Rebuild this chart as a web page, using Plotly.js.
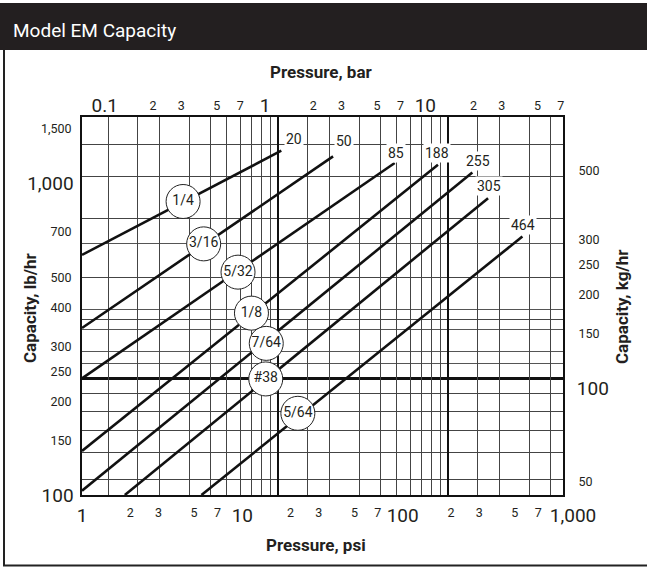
<!DOCTYPE html>
<html><head><meta charset="utf-8">
<script src="https://cdn.plot.ly/plotly-3.0.1.min.js"></script>
<style>html,body{margin:0;padding:0;background:#fff}#chart{width:647px;height:567px}</style>
</head><body><div id="chart"></div>
<script>
// ---- data ----
const orifices = ['1/4', '3/16', '5/32', '1/8', '7/64', '#38', '5/64'];
const maxPsiLabels = ['20', '50', '85', '188', '255', '305', '464'];
const psiStart = [1, 1, 1, 1, 1, 1.85, 5.56];
const psiEnd = [17.5, 36.8, 89.2, 166, 272, 341, 558];
const capStart = [591, 344, 237, 138.5, 103.2, 100, 100];
const capEnd = [1277, 1224, 1166, 1151, 1087, 899, 677];
const badgePsi = [4.27, 5.74, 9.40, 11.4, 14.1, 14.0, 22.2];
const badgeCap = [877, 641, 520, 384, 307, 236, 183];
const endLabelPsi = [20.9, 42.9, 91.4, 163, 295, 346, 563];
const endLabelCap = [1395, 1368, 1260, 1260, 1180, 980, 738];

// tick labels
const psiMajor = [1, 10, 100];
const psiMajorText = ['1', '10', '100'];
const psiEndTick = [1000];
const psiEndText = ['1,000'];
const psiMinor = [2, 3, 5, 7, 20, 30, 50, 70, 200, 300, 500, 700];
const psiMinorText = ['2', '3', '5', '7', '2', '3', '5', '7', '2', '3', '5', '7'];
const barMajor = [0.1, 1, 10];
const barMajorText = ['0.1', '1', '10'];
const barMinor = [0.2, 0.3, 0.5, 0.7, 2, 3, 5, 7, 20, 30, 50, 70];
const barMinorText = ['2', '3', '5', '7', '2', '3', '5', '7', '2', '3', '5', '7'];
const lbMajor = [100, 1000];
const lbMajorText = ['100', '1,000'];
const lbMinor = [150, 200, 250, 300, 400, 500, 700, 1500];
const lbMinorText = ['150', '200', '250', '300', '400', '500', '700', '1,500'];
const kgMajor = [100];
const kgMajorText = ['100'];
const kgMinor = [50, 150, 200, 250, 300, 500];
const kgMinorText = ['50', '150', '200', '250', '300', '500'];

// printed grid of the chart (its own log paper)
const gridXLines = [1, 1.5, 2, 3, 4, 5, 6, 7, 8, 9, 15, 20, 30, 40, 50, 60, 70, 80, 90, 150, 200, 300, 400];
const gridXHeavy = [10, 100];
const gridYLines = [50, 60, 70, 80, 90, 150, 200, 300, 400, 500];
const gridYExtra = [110.6, 120.4, 140.4, 161.1, 252.4];
const gridYHeavy = [100];

// ---- layout geometry ----
const W = 647, H = 567, ML = 82, MR = 84, MT = 117, MB = 72;
const PW = W - ML - MR, PH = H - MT - MB;
const px = v => (v - ML) / PW;
const py = v => (H - MB - v) / PH;
const FONT = 'Roboto, "Liberation Sans", Arial, sans-serif';
const L = Math.log10;
const KG = 2.20462, BAR = 14.5038;
const psiRange = [0, 3];
const barShift = 0.02; // printed bar labels sit slightly left of the exact conversion
const barRange = [psiRange[0] - L(BAR) + barShift, psiRange[1] - L(BAR) + barShift];
const lbRange = [2, 3.2145];
const kgRange = [lbRange[0] - L(KG), lbRange[1] - L(KG)];
const gridXRange = [-0.153, 2.677];
const gridYRange = [1.6528, 2.7803];

const traces = [];
for (let i = 0; i < orifices.length; i++) {
  traces.push({
    x: [psiStart[i], psiEnd[i]], y: [capStart[i], capEnd[i]],
    mode: 'lines', line: {color: '#111', width: 2.6},
    hoverinfo: 'skip', showlegend: false
  });
}
traces.push({
  x: badgePsi, y: badgeCap, mode: 'markers+text', text: orifices,
  textposition: 'middle center',
  marker: {size: 34, color: '#fff', line: {color: '#222', width: 1}},
  textfont: {family: FONT, size: 14, color: '#231f20'},
  hoverinfo: 'skip', showlegend: false
});
// empty traces to tie the overlay axes to the plot
[['x2', 'y'], ['x3', 'y'], ['x4', 'y'], ['x5', 'y'], ['x6', 'y'], ['x7', 'y'],
 ['x', 'y2'], ['x', 'y3'], ['x', 'y4'], ['x', 'y5'], ['x', 'y6'], ['x', 'y7']].forEach(p => {
  traces.push({x: [], y: [], xaxis: p[0], yaxis: p[1], mode: 'markers', hoverinfo: 'skip', showlegend: false});
});

const base = {type: 'log', showgrid: false, zeroline: false, fixedrange: true,
  ticks: 'outside', tickcolor: 'rgba(0,0,0,0)', color: '#231f20'};
const gridAx = (range, vals, width, color) => Object.assign({}, base, {
  range: range, tickvals: vals, showticklabels: false, ticks: '',
  showgrid: true, gridcolor: color, gridwidth: width});

const layout = {
  width: W, height: H,
  margin: {l: ML, r: MR, t: MT, b: MB, pad: 0},
  paper_bgcolor: '#fff', plot_bgcolor: '#fff',
  font: {family: FONT, color: '#231f20'},
  showlegend: false,
  title: {text: 'Model EM Capacity', x: 13 / W, xanchor: 'left', xref: 'container',
    y: 1 - 30 / H, yanchor: 'middle', yref: 'container',
    font: {family: FONT, size: 19, color: '#fff'}},
  xaxis: Object.assign({}, base, {range: psiRange, tickvals: psiMajor, ticktext: psiMajorText,
    tickfont: {size: 19}, ticklen: 3, showline: true, mirror: true, linecolor: '#111', linewidth: 1.6}),
  xaxis2: Object.assign({}, base, {overlaying: 'x', anchor: 'y', side: 'bottom', range: psiRange,
    tickvals: psiMinor, ticktext: psiMinorText, tickfont: {size: 12.5}, ticklen: 6}),
  xaxis7: Object.assign({}, base, {overlaying: 'x', anchor: 'y', side: 'bottom', range: psiRange,
    tickvals: psiEndTick, ticktext: psiEndText, tickfont: {size: 19}, ticklen: 3, ticklabelshift: 10}),
  xaxis3: Object.assign({}, base, {overlaying: 'x', anchor: 'y', side: 'top', range: barRange,
    tickvals: barMajor, ticktext: barMajorText, tickfont: {size: 19}, ticks: ''}),
  xaxis4: Object.assign({}, base, {overlaying: 'x', anchor: 'y', side: 'top', range: barRange,
    tickvals: barMinor, ticktext: barMinorText, tickfont: {size: 12.5}, ticklen: 1}),
  xaxis5: Object.assign(gridAx(gridXRange, gridXLines, 1, '#444'), {overlaying: 'x', anchor: 'y'}),
  xaxis6: Object.assign(gridAx(gridXRange, gridXHeavy, 2.4, '#111'), {overlaying: 'x', anchor: 'y'}),
  yaxis: Object.assign({}, base, {range: lbRange, tickvals: lbMajor, ticktext: lbMajorText,
    tickfont: {size: 19}, ticklen: 3, showline: true, mirror: true, linecolor: '#111', linewidth: 1.6}),
  yaxis2: Object.assign({}, base, {overlaying: 'y', anchor: 'x', side: 'left', range: lbRange,
    tickvals: lbMinor, ticktext: lbMinorText, tickfont: {size: 12.5}, ticklen: 7}),
  yaxis3: Object.assign({}, base, {overlaying: 'y', anchor: 'x', side: 'right', range: kgRange,
    tickvals: kgMajor, ticktext: kgMajorText, tickfont: {size: 19}, ticklen: 9}),
  yaxis4: Object.assign({}, base, {overlaying: 'y', anchor: 'x', side: 'right', range: kgRange,
    tickvals: kgMinor, ticktext: kgMinorText, tickfont: {size: 12.5}, ticklen: 12}),
  yaxis5: Object.assign(gridAx(gridYRange, gridYLines, 1, '#444'), {overlaying: 'y', anchor: 'x'}),
  yaxis6: Object.assign(gridAx(gridYRange, gridYExtra, 1, '#555'), {overlaying: 'y', anchor: 'x'}),
  yaxis7: Object.assign(gridAx(gridYRange, gridYHeavy, 2.4, '#111'), {overlaying: 'y', anchor: 'x'}),
  shapes: [
    {type: 'rect', xref: 'paper', yref: 'paper', x0: px(0), x1: px(W), y0: py(50), y1: py(3),
      fillcolor: '#231f20', line: {width: 0}, layer: 'below'},
    {type: 'line', xref: 'paper', yref: 'paper', x0: px(4), x1: px(4), y0: py(50), y1: py(566),
      line: {color: '#222', width: 2}},
    {type: 'line', xref: 'paper', yref: 'paper', x0: px(3), x1: px(W), y0: py(565.5), y1: py(565.5),
      line: {color: '#222', width: 2}}
  ],
  annotations: []
};
for (let i = 0; i < maxPsiLabels.length; i++) {
  layout.annotations.push({
    x: L(endLabelPsi[i]), y: L(endLabelCap[i]), xref: 'x', yref: 'y',
    text: maxPsiLabels[i], showarrow: false, bgcolor: '#fff', borderpad: 1,
    font: {family: FONT, size: 14, color: '#231f20'}
  });
}
const titleFont = {family: FONT, size: 17, color: '#231f20', weight: 'bold'};
const axTitle = (x, y, text, angle) => ({xref: 'paper', yref: 'paper', x: x, y: y,
  xanchor: 'center', yanchor: 'middle', text: '<b>' + text + '</b>', textangle: angle,
  showarrow: false, font: titleFont});
layout.annotations.push(
  axTitle(px(321), py(72), 'Pressure, bar', 0),
  axTitle(px(316), py(545), 'Pressure, psi', 0),
  axTitle(px(30), py(308), 'Capacity, lb/hr', -90),
  axTitle(px(622), py(307), 'Capacity, kg/hr', -90)
);

Plotly.newPlot('chart', traces, layout, {staticPlot: true, displayModeBar: false});
</script>
</body></html>
